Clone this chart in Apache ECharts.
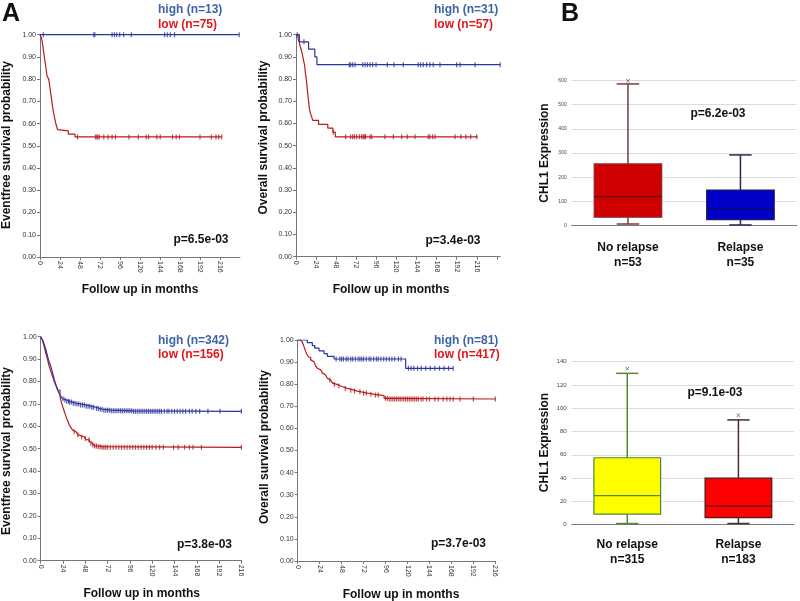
<!DOCTYPE html>
<html><head><meta charset="utf-8">
<script src="https://cdn.jsdelivr.net/npm/echarts@6/dist/echarts.min.js"></script>
<style>html,body{margin:0;padding:0;background:#fff}#c{width:800px;height:601px}</style>
</head><body><div id="c"></div>
<script>
// ---------- DATA ----------
const monthTicks = [0,24,48,72,96,120,144,168,192,216];
// Panel 1: event-free survival (small cohort)
const p1High = [[0,1],[239,1]];
const p1HighCens = [4,64.6,65.8,86.5,89.3,92,95.6,100.4,109.6,149.5,152.7,156.3,161.5,239];
const p1Low = [[0,1],[1.5,0.987],[2.5,0.973],[3,0.96],[3.5,0.947],[4,0.933],[4.5,0.92],[5,0.907],[5.5,0.893],[6,0.88],[6.5,0.867],[7,0.853],[7.5,0.84],[8,0.827],[8.5,0.813],[10.5,0.80],[11,0.787],[11.5,0.773],[12,0.76],[12.5,0.747],[13,0.733],[13.5,0.72],[14,0.707],[14.5,0.693],[15,0.68],[15.5,0.667],[16,0.653],[16.8,0.64],[17.5,0.627],[18.3,0.613],[19,0.60],[20,0.587],[21,0.573],[22.3,0.567],[34,0.553],[42,0.54],[218,0.54]];
const p1LowCens = [45,66.6,68.2,69.4,71,76.5,81.7,86.5,90.5,106.8,118,127.5,130.3,140.3,144.3,159,163.4,167.4,192,205.6,211.2,214.4,218];
// Panel 2: overall survival (small cohort)
const p2High = [[0,1],[4,0.968],[15,0.935],[22.5,0.90],[25,0.865],[244,0.865]];
const p2HighCens = [1.5,9.5,63.7,65.3,67.7,70.5,79.7,82.5,85.3,88.4,91.6,95.6,109.1,117.1,128.2,146.1,148.9,152.1,156.1,160,164,172,192,196,214,244];
const p2Low = [[0,1],[2.5,0.982],[4,0.965],[5,0.947],[6.4,0.93],[7.5,0.912],[8.5,0.895],[9.5,0.877],[10.4,0.86],[10.8,0.842],[11.3,0.825],[12,0.807],[12.5,0.79],[13,0.772],[13.5,0.754],[14,0.737],[14.5,0.719],[15,0.702],[15.5,0.684],[16,0.667],[17,0.649],[18.5,0.632],[20,0.614],[27,0.596],[38,0.579],[44,0.561],[47,0.54],[217,0.54]];
const p2LowCens = [44.6,59.3,65.3,67.7,69.7,72.4,75.7,78.5,80.4,81.6,83.2,88.4,90.4,106.3,116.3,126.2,133,142.2,158.1,160.1,163.3,166.1,190,197.1,203.1,208.7,215.9];
// Panel 3: event-free survival (large cohort)
const p3High = [[0,1],[2,0.985],[4,0.963],[6,0.935],[7.5,0.911],[9,0.89],[11,0.866],[13,0.835],[14.7,0.807],[16.5,0.785],[18.3,0.762],[20,0.745],[21.8,0.732],[23.5,0.723],[25.4,0.717],[28,0.712],[30.8,0.708],[34,0.703],[38,0.70],[43,0.695],[48.7,0.69],[54,0.685],[59.5,0.68],[63,0.676],[66.6,0.672],[76,0.669],[100,0.667],[216,0.667]];
const p3HighCens = [24,26,28,30,31,33,35,37,39,41,43,45,47,49,51,53,55,57,60,62,64,66,68,70,72,74,76,78,80,82,84,86,88,90,92,94,96,98,100,102,104,106,108,110,112,114,116,118,120,122,124,126,128,130,133,136,138,141,144,147,150,153,156,160,163,167,171,180,193,216];
const p3Low = [[0,1],[2,0.982],[3.9,0.955],[5.5,0.925],[7.5,0.896],[9,0.87],[11,0.844],[13,0.82],[14.7,0.799],[16.5,0.78],[18.3,0.762],[20.8,0.732],[22,0.71],[23.7,0.688],[25.5,0.665],[27.3,0.643],[29,0.625],[30.8,0.606],[32.5,0.594],[34.4,0.583],[36,0.576],[38,0.569],[40,0.562],[41.6,0.557],[44,0.552],[47,0.546],[49,0.54],[52.3,0.531],[54,0.524],[55.9,0.516],[58,0.512],[61.3,0.509],[66,0.506],[216,0.506]];
const p3LowCens = [36,40,44,48,52,54,56,58,60,62,64,66,68,70,72,75,78,81,84,87,90,93,96,99,102,105,108,111,114,117,120,124,128,132,143,148,155,160,164,173,216];
// Panel 4: overall survival (large cohort)
const p4High = [[0,1],[10.5,0.988],[16,0.975],[18.6,0.963],[23.3,0.951],[28.8,0.938],[32.4,0.926],[39.7,0.914],[118,0.872],[170,0.872]];
const p4HighCens = [42,46,48,50,53,55,58,60,63,66,68,70,72,75,78,80,83,86,88,91,94,97,100,103,106,110,113,121,124,127,131,135,140,145,150,155,160,165,170];
const p4Low = [[0,1],[3,0.995],[5.1,0.99],[6,0.98],[6.9,0.97],[8,0.958],[8.7,0.947],[10.5,0.932],[12,0.922],[14.2,0.91],[16,0.902],[17.8,0.894],[19.5,0.883],[21.5,0.872],[23,0.865],[25.1,0.857],[27,0.85],[28.8,0.842],[30.5,0.835],[32.4,0.827],[34,0.819],[36,0.811],[38,0.805],[39.7,0.799],[43,0.792],[47,0.786],[51,0.781],[54.3,0.777],[58,0.773],[61.6,0.769],[65,0.766],[68.9,0.763],[72,0.76],[76.2,0.758],[80,0.754],[83.4,0.751],[90.7,0.748],[94.4,0.736],[100,0.733],[216,0.733]];
const p4LowCens = [35,40,45,52,58,62,68,72,75,80,85,88,96,98,100,102,104,106,108,110,112,114,116,118,120,122,124,126,128,130,132,135,137,141,144,150,153.8,159,162.9,166.5,170,177.5,192,216];

const legendHigh = ['high (n=13)','high (n=31)','high (n=342)','high (n=81)'];
const legendLow  = ['low (n=75)','low (n=57)','low (n=156)','low (n=417)'];
const pValuesKM  = ['p=6.5e-03','p=3.4e-03','p=3.8e-03','p=3.7e-03'];
const yNamesKM   = ['Eventfree survival probability','Overall survival probability','Eventfree survival probability','Overall survival probability'];

// Box plots: [min, Q1, median, Q3, max]
const boxCategories = ['No relapse','Relapse'];
const boxTopN = [53,35];
const boxTopStats = [[7,35,120,255,585],[3,25,70,147,292]];
const boxTopOutliers = [[0,598]];
const boxTopP = 'p=6.2e-03';
const boxBottomN = [315,183];
const boxBottomStats = [[1,9,25,57.5,130],[1,6,16,40,90]];
const boxBottomOutliers = [[0,134],[1,94]];
const boxBottomP = 'p=9.1e-03';

// ---------- STYLE ----------
const FONT = '"Liberation Sans", Arial, sans-serif';
const C_BLUE_LINE = '#2a35a0', C_RED_LINE = '#b81c1c';
const C_BLUE_TXT = '#3d64a8', C_RED_TXT = '#e3161c';

function stepAt(curve, t){ let v = curve[0][1]; for (const p of curve){ if (p[0] <= t) v = p[1]; else break; } return v; }

const kmGrids = [
  {left:40, top:34.7, width:200, height:222.3, xmax:240},
  {left:296, top:34.7, width:204.2, height:222, xmax:244},
  {left:40.7, top:336.7, width:200.7, height:224, xmax:216},
  {left:297.7, top:340, width:197.6, height:221, xmax:216}
];
const kmData = [
  [p1High,p1HighCens,p1Low,p1LowCens],
  [p2High,p2HighCens,p2Low,p2LowCens],
  [p3High,p3HighCens,p3Low,p3LowCens],
  [p4High,p4HighCens,p4Low,p4LowCens]
];
const grid = [], xAxis = [], yAxis = [], series = [];
kmGrids.forEach((g,i)=>{
  grid.push({left:g.left, top:g.top, width:g.width, height:g.height, outerBoundsMode:'none', containLabel:false});
  xAxis.push({type:'value', gridIndex:i, min:0, max:g.xmax, interval:24, splitLine:{show:false},
    axisLine:{show:true, onZero:false, lineStyle:{color:'#777', width:1}},
    axisTick:{show:true, length:3, lineStyle:{color:'#777'}},
    axisLabel:{rotate:-90, fontSize:7, color:'#333', fontFamily:FONT, margin:4, showMaxLabel: g.xmax===216,
      formatter: v => (monthTicks.indexOf(v) >= 0 ? String(v) : '')}});
  yAxis.push({type:'value', gridIndex:i, min:0, max:1, interval:0.1, splitLine:{show:false},
    axisLine:{show:true, onZero:false, lineStyle:{color:'#777', width:1}},
    axisTick:{show:true, length:3, lineStyle:{color:'#777'}},
    axisLabel:{fontSize:7, color:'#333', fontFamily:FONT, margin:4, formatter: v => v.toFixed(2)}});
  const [hi, hiC, lo, loC] = kmData[i];
  const mk = (curve, color) => ({type:'line', xAxisIndex:i, yAxisIndex:i, data:curve, step:'end', showSymbol:false, symbol:'none', lineStyle:{color, width:1.2}, animation:false, silent:true, z:3});
  const mkC = (curve, cens, color) => ({type:'scatter', xAxisIndex:i, yAxisIndex:i, data:cens.map(t=>[t, stepAt(curve,t)]), symbol:'rect', symbolSize:[1.2,5], itemStyle:{color}, animation:false, silent:true, z:4});
  series.push(mk(lo, C_RED_LINE), mkC(lo, loC, C_RED_LINE), mk(hi, C_BLUE_LINE), mkC(hi, hiC, C_BLUE_LINE));
});

// box plot grids
const boxGrids = [
  {left:571.7, top:80.3, width:225, height:145.4, max:600, interval:100, n:boxTopN, stats:boxTopStats, out:boxTopOutliers, margin:14, yfs:5,
   styles:[{fill:'#d00000', border:'#8b2b2b', whisker:'#7d3a3a', median:'#5a1010'},{fill:'#0000c8', border:'#1a1a5a', whisker:'#2a2a5a', median:'#101040'}]},
  {left:571.7, top:361.7, width:222.3, height:163, max:140, interval:20, n:boxBottomN, stats:boxBottomStats, out:boxBottomOutliers, margin:12, yfs:6,
   styles:[{fill:'#ffff00', border:'#4e8a2e', whisker:'#4e8a2e', median:'#4e8a2e'},{fill:'#ff0000', border:'#4a1a1a', whisker:'#4a2a2a', median:'#4a1a1a'}]}
];
function makeBox(styles){
  return function(params, api){
    const i = api.value(0);
    const st = styles[params.dataIndex];
    const lo = api.coord([i, api.value(1)]), q1 = api.coord([i, api.value(2)]), md = api.coord([i, api.value(3)]), q3 = api.coord([i, api.value(4)]), hi = api.coord([i, api.value(5)]);
    const band = api.size([1,0])[0];
    const bw = band*0.6, cw = band*0.2, cx = md[0];
    const ws = {stroke:st.whisker, lineWidth:1.5};
    return {type:'group', children:[
      {type:'line', shape:{x1:cx,y1:hi[1],x2:cx,y2:q3[1]}, style:ws},
      {type:'line', shape:{x1:cx,y1:q1[1],x2:cx,y2:lo[1]}, style:ws},
      {type:'line', shape:{x1:cx-cw/2,y1:hi[1],x2:cx+cw/2,y2:hi[1]}, style:ws},
      {type:'line', shape:{x1:cx-cw/2,y1:lo[1],x2:cx+cw/2,y2:lo[1]}, style:ws},
      {type:'rect', shape:{x:cx-bw/2,y:q3[1],width:bw,height:q1[1]-q3[1]}, style:{fill:st.fill, stroke:st.border, lineWidth:1.2}},
      {type:'line', shape:{x1:cx-bw/2,y1:md[1],x2:cx+bw/2,y2:md[1]}, style:{stroke:st.median, lineWidth:1.2}}
    ]};
  };
}
boxGrids.forEach((b,k)=>{
  const i = 4+k;
  grid.push({left:b.left, top:b.top, width:b.width, height:b.height, outerBoundsMode:'none', containLabel:false});
  xAxis.push({type:'category', gridIndex:i, data:boxCategories, boundaryGap:true,
    axisLine:{show:true, lineStyle:{color:'#7a7a7a', width:1.2}}, axisTick:{show:false}, splitLine:{show:false},
    axisLabel:{fontSize:12, fontWeight:'bold', color:'#111', fontFamily:FONT, lineHeight:15, margin:b.margin,
      formatter:(v,idx)=> v + '\nn=' + b.n[idx]}});
  yAxis.push({type:'value', gridIndex:i, min:0, max:b.max, interval:b.interval,
    axisLine:{show:false}, axisTick:{show:false},
    splitLine:{show:true, lineStyle:{color:'#dcdcdc', width:1}},
    axisLabel:{fontSize:b.yfs, color:'#444', fontFamily:FONT, margin:5}});
  series.push({type:'custom', xAxisIndex:i, yAxisIndex:i, data:b.stats.map((s,j)=>[j].concat(s)),
    encode:{x:0, y:[1,2,3,4,5]}, renderItem:makeBox(b.styles), animation:false, silent:true, z:3});
  series.push({type:'scatter', xAxisIndex:i, yAxisIndex:i, data:b.out, symbol:'path://M0,0L10,10M10,0L0,10', symbolSize:3.5,
    itemStyle:{color:'none', borderColor:'#333', borderWidth:0.8}, animation:false, silent:true, z:4});
});

// ---------- TEXT ----------
const graphic = [];
function txt(text, x, y, opt){
  opt = opt || {};
  graphic.push({type:'text', x, y, rotation:opt.rot||0, silent:true, z:10, style:{text, fill:opt.color||'#111', fontSize:opt.size||12, fontWeight:opt.weight||'bold', fontFamily:FONT, align:opt.align||'left', verticalAlign:opt.va||'middle'}});
}
txt('A', 2, 14, {size:25});
txt('B', 561, 14, {size:25});
const legPos = [[158,10,24.3],[434,10,24.3],[158,340.7,355],[434,340.7,355]];
const pPos = [[228.5,239.3],[480.5,240.7],[232,544.3],[486,543.3]];
const yNamePos = [[7,145],[264,137.5],[7,451],[265,447]];
const xNamePos = [[140,290],[391,290],[141.7,593.3],[401,594.3]];
for (let i=0;i<4;i++){
  txt(legendHigh[i], legPos[i][0], legPos[i][1], {color:C_BLUE_TXT});
  txt(legendLow[i], legPos[i][0], legPos[i][2], {color:C_RED_TXT});
  txt(pValuesKM[i], pPos[i][0], pPos[i][1], {align:'right'});
  txt(yNamesKM[i], yNamePos[i][0], yNamePos[i][1], {align:'center', rot:Math.PI/2});
  txt('Follow up in months', xNamePos[i][0], xNamePos[i][1], {align:'center'});
}
txt(boxTopP, 718, 114, {align:'center'});
txt(boxBottomP, 715, 392.7, {align:'center'});
txt('CHL1 Expression', 545, 153, {align:'center', rot:Math.PI/2});
txt('CHL1 Expression', 545, 442.5, {align:'center', rot:Math.PI/2});

const chart = echarts.init(document.getElementById('c'), null, {renderer:'canvas'});
chart.setOption({animation:false, backgroundColor:'#fff', grid, xAxis, yAxis, series, graphic});
</script>
</body></html>
